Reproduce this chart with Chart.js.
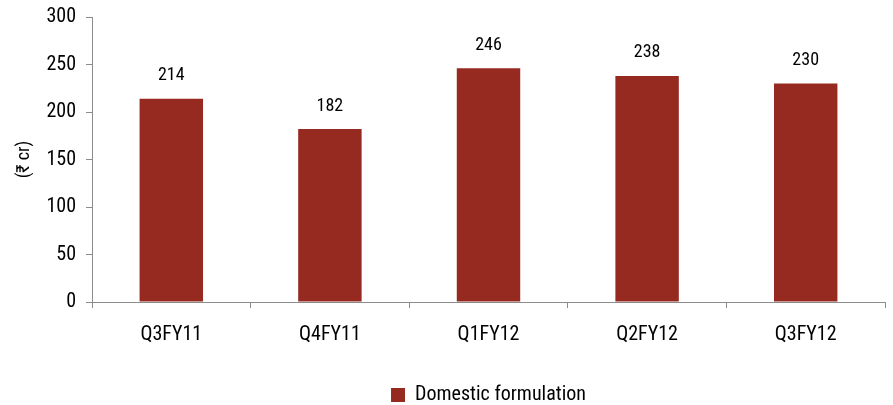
<!DOCTYPE html>
<html>
<head>
    <title></title>
    <meta charset="utf-8" />
    <style>
        html, body { margin: 0; padding: 0; background: #fff; }
    </style>
    <script src="https://cdn.jsdelivr.net/npm/chart.js"></script>
</head>
<body>
<canvas id="myChart" width="893" height="405"></canvas>
<script>
let quarters = ['Q3FY11', 'Q4FY11', 'Q1FY12', 'Q2FY12', 'Q3FY12'];
let domestic = [214, 182, 246, 238, 230];
let yTicks = [0, 50, 100, 150, 200, 250, 300];

// condensed face where one is installed
const fontFamily = "'Roboto Condensed', 'DejaVu Sans', sans-serif";
const narrow = 'condensed';
const textWeight = 'normal';
const textColor = '#000000';
const axisGrey = '#8c8c8c';

// numbers above each bar
let valueLabels = {
    id: 'valueLabels',
    afterDatasetsDraw(chart) {
        let ctx = chart.ctx;
        let meta = chart.getDatasetMeta(0);
        ctx.save();
        ctx.font = narrow + ' ' + textWeight + ' 18px ' + fontFamily;
        ctx.fillStyle = textColor;
        ctx.textAlign = 'center';
        ctx.textBaseline = 'middle';
        meta.data.forEach((bar, i) => {
            ctx.fillText(chart.data.datasets[0].data[i], bar.x, bar.y - 23);
        });
        ctx.restore();
    }
};

let ctx = document.getElementById('myChart').getContext('2d');
let myChart = new Chart(ctx, {
    type: 'bar',
    data: {
        labels: quarters,
        datasets: [{
            label: 'Domestic formulation',
            data: domestic,
            backgroundColor: '#962a21',
            borderWidth: 0,
            barPercentage: 0.5,
            categoryPercentage: 0.8
        }]
    },
    options: {
        responsive: false,
        animation: false,
        layout: { padding: { top: 9, right: 8, left: 14, bottom: -10 } },
        plugins: {
            tooltip: { enabled: false },
            legend: {
                position: 'bottom',
                fullSize: false,
                labels: {
                    color: textColor,
                    font: { family: fontFamily, style: narrow, weight: textWeight, size: 20 },
                    boxWidth: 14,
                    boxHeight: 14,
                    padding: 4
                }
            }
        },
        scales: {
            x: {
                afterFit(scale) { scale.height = 79; },
                grid: {
                    offset: true,
                    drawOnChartArea: false,
                    drawTicks: true,
                    tickLength: 6,
                    color: axisGrey
                },
                border: { color: axisGrey, width: 1 },
                ticks: {
                    color: textColor,
                    padding: 15,
                    font: { family: fontFamily, style: narrow, weight: textWeight, size: 20 }
                }
            },
            y: {
                min: 0,
                max: 300,
                afterFit(scale) { scale.width = 78; },
                afterBuildTicks(scale) { scale.ticks = yTicks.map(v => ({ value: v })); },
                grid: {
                    drawOnChartArea: false,
                    drawTicks: true,
                    tickLength: 6,
                    color: axisGrey
                },
                border: { color: axisGrey, width: 1 },
                ticks: {
                    color: textColor,
                    padding: 10,
                    font: { family: fontFamily, style: narrow, weight: textWeight, size: 20, lineHeight: 0.7 }
                },
                title: {
                    display: true,
                    text: '(₹ cr)',
                    color: textColor,
                    padding: 0,
                    font: { family: fontFamily, style: narrow, weight: textWeight, size: 18 }
                }
            }
        }
    },
    plugins: [valueLabels]
});
</script>
</body>
</html>
